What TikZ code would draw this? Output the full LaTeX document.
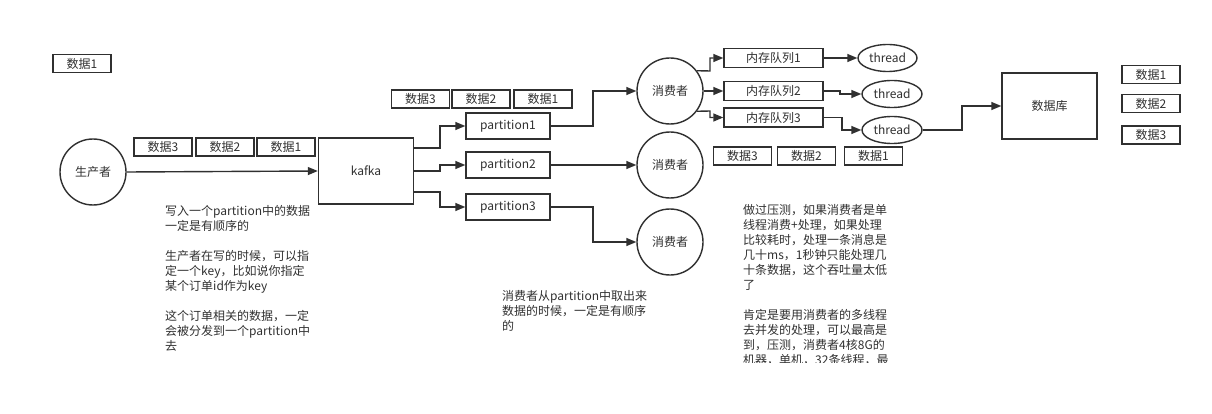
\documentclass[tikz,border=0pt]{standalone}
\usepackage{fontspec}
\setmainfont{Noto Sans CJK SC}
\usetikzlibrary{arrows.meta,shapes.geometric,calc}
\definecolor{ink}{HTML}{303030}
\begin{document}
\begin{tikzpicture}[x=1pt,y=-1pt,
  every node/.style={text=ink,font=\fontsize{12}{15}\selectfont,inner sep=0pt},
  databox/.style={draw=ink,line width=1.4pt,fill=white,minimum width=58pt,minimum height=18pt},
  pbox/.style={draw=ink,line width=1.4pt,fill=white,minimum width=84pt,minimum height=26pt},
  qbox/.style={draw=ink,line width=1.4pt,fill=white,minimum width=99pt,minimum height=19pt},
  bigbox/.style={draw=ink,line width=1.4pt,fill=white,minimum width=95pt,minimum height=66pt},
  role/.style={draw=ink,line width=1.4pt,fill=white,circle,minimum size=66pt},
  thr/.style={draw=ink,line width=1.4pt,fill=white,ellipse,minimum width=60pt,minimum height=27pt},
  arr/.style={draw=ink,line width=1.4pt,-{Triangle[length=10pt,width=8pt]}},
  note/.style={align=left,anchor=north west,text width=200pt}]
\useasboundingbox (0,0) rectangle (1212,414);

% left
\node[databox] (d0) at (82,63.5) {数据1};
\node[role] (prod) at (93,172) {生产者};
\node[databox] (a3) at (163,147) {数据3};
\node[databox] (a2) at (225,147) {数据2};
\node[databox] (a1) at (286,147) {数据1};
\node[bigbox] (kafka) at (366,171) {kafka};
\draw[arr] (prod.east) -- (kafka.west);

% partitions
\node[databox] (b3) at (420.5,99) {数据3};
\node[databox] (b2) at (481,99) {数据2};
\node[databox] (b1) at (543,99) {数据1};
\node[pbox] (p1) at (508,126) {partition1};
\node[pbox] (p2) at (508,165) {partition2};
\node[pbox] (p3) at (508,207) {partition3};
\draw[arr] (kafka.east |- 0,148) -- (440,148) |- (p1.west);
\draw[arr] (kafka.east |- 0,171) -- (440,171) |- (p2.west);
\draw[arr] (kafka.east |- 0,192) -- (440,192) |- (p3.west);

% consumers
\node[role] (c1) at (670,91) {消费者};
\node[role] (c2) at (670,165) {消费者};
\node[role] (c3) at (670,242) {消费者};
\draw[arr] (p1.east) -- (593,126) |- (c1.west);
\draw[arr] (p2.east) -- (c2.west);
\draw[arr] (p3.east) -- (593,207) |- (c3.west);

% queues
\node[qbox] (q1) at (773.5,58) {内存队列1};
\node[qbox] (q2) at (773.5,91) {内存队列2};
\node[qbox] (q3) at (773.5,117.5) {内存队列3};
\draw[arr] (c1.37) -- (710,71) |- (q1.west);
\draw[arr] (c1.east) -- (q2.west);
\draw[arr] (c1.-37) -- (710,111) |- (q3.west);

% threads
\node[thr,minimum width=59pt] (t1) at (887.5,58) {thread};
\node[thr] (t2) at (892,94) {thread};
\node[thr] (t3) at (892,130) {thread};
\draw[arr] (q1.east) -- (t1.west);
\draw[arr] (q2.east) -- (840,91) |- (t2.west);
\draw[arr] (q3.east) -- (842,117.5) |- (t3.west);

\node[databox] (e3) at (742.5,156) {数据3};
\node[databox] (e2) at (806.5,156) {数据2};
\node[databox] (e1) at (873.5,156) {数据1};

% database
\node[bigbox] (db) at (1049.5,106) {数据库};
\draw[arr] (t3.east) -- (962,130) |- (db.west);
\node[databox] (f1) at (1151,74.5) {数据1};
\node[databox] (f2) at (1151,103.5) {数据2};
\node[databox] (f3) at (1151,135) {数据3};

% notes
\node[note] (n1) at (165,205) {写入一个partition中的数据\\一定是有顺序的\\[15pt]生产者在写的时候，可以指\\定一个key，比如说你指定\\某个订单id作为key\\[15pt]这个订单相关的数据，一定\\会被分发到一个partition中\\去};
\node[note] (n2) at (502,290) {消费者从partition中取出来\\数据的时候，一定是有顺序\\的};
\begin{scope}
\clip (0,0) rectangle (1212,362);
\node[note] (n3) at (743,204) {做过压测，如果消费者是单\\线程消费+处理，如果处理\\比较耗时，处理一条消息是\\几十ms，1秒钟只能处理几\\十条数据，这个吞吐量太低\\了\\[15pt]肯定是要用消费者的多线程\\去并发的处理，可以最高是\\到，压测，消费者4核8G的\\机器，单机，32条线程，最};
\end{scope}
\end{tikzpicture}
\end{document}
